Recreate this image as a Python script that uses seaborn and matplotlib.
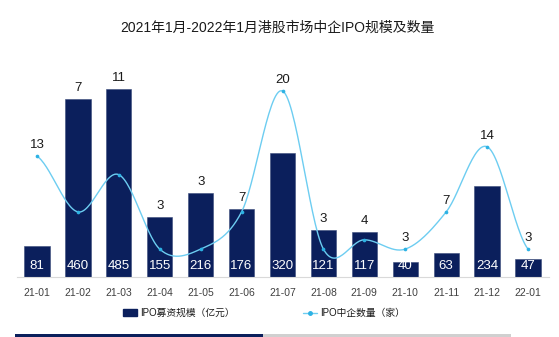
import numpy as np
import pandas as pd
import matplotlib
matplotlib.use("Agg")
import matplotlib.pyplot as plt
from matplotlib.patches import Patch, Rectangle
from matplotlib.lines import Line2D
import seaborn as sns

months = ["21-01", "21-02", "21-03", "21-04", "21-05", "21-06", "21-07",
          "21-08", "21-09", "21-10", "21-11", "21-12", "22-01"]
ipo_size = [81, 460, 485, 155, 216, 176, 320, 121, 117, 40, 63, 234, 47]
ipo_count = [13, 7, 11, 3, 3, 7, 20, 3, 4, 3, 7, 14, 3]

title = "2021年1月-2022年1月港股市场中企IPO规模及数量"
bar_label = "IPO募资规模（亿元）"
line_label = "IPO中企数量（家）"

sns.set_theme(style="white")
plt.rcParams["font.family"] = ["Liberation Sans", "Noto Sans CJK SC", "DejaVu Sans"]

BAR_C = "#0b1f5c"
LINE_C = "#6dcdf1"
MARK_C = "#2db2e4"

W, H = 559, 337
fig = plt.figure(figsize=(W / 100, H / 100), dpi=100)
left, right = 16.5 / W, 548.5 / W
bottom, top = (H - 277) / H, (H - 60) / H
ax = fig.add_axes([left, bottom, right - left, top - bottom])

df = pd.DataFrame({"month": months, "size": ipo_size, "count": ipo_count})
sns.barplot(data=df, x="month", y="size", ax=ax, color=BAR_C, width=0.62,
            saturation=1, edgecolor="#3a4a7a", linewidth=0.4)
BAR_MAX = 560
ax.set_ylim(0, BAR_MAX)
ax.set_xlim(-0.5, len(months) - 0.5)

ax2 = ax.twinx()
LINE_MAX = 23.33
ax2.set_ylim(0, LINE_MAX)

# Catmull-Rom smoothing of the count series for drawing
x = np.arange(len(months), dtype=float)
y = np.array(ipo_count, dtype=float)
m = np.zeros_like(y)
m[1:-1] = (y[2:] - y[:-2]) / 2
m[0] = (y[1] - y[0]) / 2
m[-1] = (y[-1] - y[-2]) / 2
xs, ys = [], []
for i in range(len(x) - 1):
    t = np.linspace(0, 1, 30, endpoint=(i == len(x) - 2))
    h00 = 2 * t**3 - 3 * t**2 + 1
    h10 = t**3 - 2 * t**2 + t
    h01 = -2 * t**3 + 3 * t**2
    h11 = t**3 - t**2
    xs.append(x[i] + t)
    ys.append(h00 * y[i] + h10 * m[i] + h01 * y[i + 1] + h11 * m[i + 1])
smooth = pd.DataFrame({"x": np.concatenate(xs), "y": np.concatenate(ys)})
sns.lineplot(data=smooth, x="x", y="y", ax=ax2, color=LINE_C, linewidth=1.0,
             sort=False, estimator=None)
ax2.scatter(x, y, s=7, color=MARK_C, zorder=5, linewidths=0)

# value labels inside bars
for i, v in enumerate(ipo_size):
    ax.annotate(str(v), xy=(i, 0), xycoords=("data", "axes fraction"),
                xytext=(0, 8), textcoords="offset points",
                ha="center", va="center", color="white", fontsize=9.5)

# count labels above max(bar top, line point)
for i, (v, c) in enumerate(zip(ipo_size, ipo_count)):
    frac = max(v / BAR_MAX, c / LINE_MAX)
    ax.annotate(str(c), xy=(i, frac), xycoords=("data", "axes fraction"),
                xytext=(0, 8), textcoords="offset points",
                ha="center", va="center", color="#1a1a1a", fontsize=9.5)

for a in (ax, ax2):
    for s in ("top", "right", "left"):
        a.spines[s].set_visible(False)
    a.set_yticks([])
    a.set_ylabel("")
    a.set_xlabel("")
ax2.spines["bottom"].set_visible(False)
ax.spines["bottom"].set_color("#d9d9d9")
ax.spines["bottom"].set_linewidth(0.8)
ax.set_xticks(range(len(months)))
ax.set_xticklabels(months, fontsize=7.5, color="#404040")
ax.tick_params(axis="x", length=0, pad=8)
ax.set_xticks(np.arange(-0.5, len(months), 1), minor=True)
ax.tick_params(axis="x", which="minor", length=3, color="#d9d9d9", width=0.8,
               direction="out")

fig.text(277 / W, 1 - 28 / H, title, ha="center", va="center",
         fontsize=10, color="#1a1a1a")

handles = [Patch(facecolor=BAR_C, edgecolor=BAR_C),
           Line2D([0], [0], color=LINE_C, marker="o", markersize=2.5,
                  markerfacecolor=MARK_C, markeredgecolor=MARK_C, lw=1.0)]
fig.legend(handles, [bar_label, line_label], loc="center",
           bbox_to_anchor=(264 / W, 1 - 313 / H), ncol=2, frameon=False,
           fontsize=7, handlelength=1.4, handleheight=0.6, handletextpad=0.3,
           columnspacing=7.1, labelcolor="#1a1a1a")

fig.patches.append(Rectangle((15 / W, 0), 248 / W, 3 / H, transform=fig.transFigure,
                             facecolor=BAR_C, edgecolor="none"))
fig.patches.append(Rectangle((263 / W, 0), 248 / W, 3 / H, transform=fig.transFigure,
                             facecolor="#d0d0d0", edgecolor="none"))

fig.savefig("out.png", dpi=100)
